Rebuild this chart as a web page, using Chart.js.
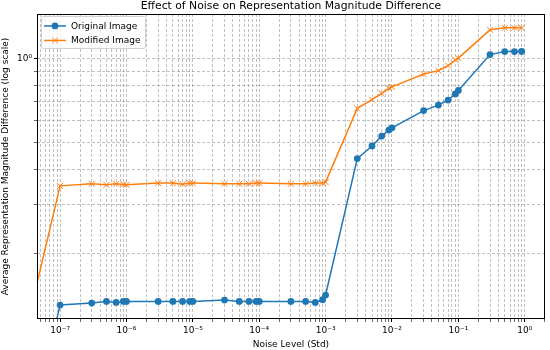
<!DOCTYPE html>
<html>
<head>
<meta charset="utf-8">
<script src="https://cdn.jsdelivr.net/npm/chart.js@4.4.1/dist/chart.umd.min.js"></script>
<style>
  html, body { margin: 0; padding: 0; background: #fff; }
  #wrap { width: 550px; height: 350px; }
</style>
</head>
<body>
<div id="wrap"><canvas id="chart"></canvas></div>
<script>
// noise std levels; the first entry stands in for noise = 0, which the log
// axis pushes far off the plot (only the steep segment into 1e-7 is visible)
const noiseLevels = [
  1e-9,
  1e-7, 3e-7, 5e-7, 7e-7, 9e-7,
  1e-6, 3e-6, 5e-6, 7e-6, 9e-6,
  1e-5, 3e-5, 5e-5, 7e-5, 9e-5,
  1e-4, 3e-4, 5e-4, 7e-4, 9e-4,
  1e-3, 3e-3, 5e-3, 7e-3, 9e-3,
  1e-2, 3e-2, 5e-2, 7e-2, 9e-2,
  0.1, 0.3, 0.5, 0.7, 0.9,
];
const originalDiff = [
  0.0013,
  0.1313, 0.1335, 0.1353, 0.1342, 0.1353,
  0.1353, 0.1353, 0.1353, 0.1353, 0.1353,
  0.1353, 0.1368, 0.1353, 0.1353, 0.1353,
  0.1353, 0.1353, 0.1353, 0.1342, 0.1372,
  0.1426, 0.438, 0.486, 0.527, 0.554,
  0.564, 0.650, 0.680, 0.709, 0.745,
  0.767, 1.030, 1.056, 1.056, 1.057,
];
const modifiedDiff = [
  0.0035,
  0.350, 0.356, 0.353, 0.356, 0.354,
  0.353, 0.358, 0.358, 0.355, 0.358,
  0.358, 0.356, 0.356, 0.356, 0.358,
  0.358, 0.356, 0.356, 0.358, 0.358,
  0.361, 0.662, 0.711, 0.749, 0.781,
  0.790, 0.878, 0.903, 0.941, 0.986,
  1.001, 1.263, 1.284, 1.284, 1.284,
];
const seriesNames = ["Original Image", "Modified Image"];
const xRange = [4.49e-8, 2.005];
const yRange = [0.1171, 1.439];

const FONT = "'DejaVu Sans', sans-serif";
const SUP = { "-": "\u207B", "0": "\u2070", "1": "\u00B9", "2": "\u00B2", "3": "\u00B3",
  "4": "\u2074", "5": "\u2075", "6": "\u2076", "7": "\u2077", "8": "\u2078", "9": "\u2079" };

function powLabel(v){
  const e = String(Math.round(Math.log10(v)));
  return "10" + e.split("").map(c => SUP[c]).join("");
}

// every 1..9 x 10^k inside [min, max]; k = 1 ones are the labelled majors
function logTicks(min, max){
  const out = [];
  for (let e = Math.floor(Math.log10(min)); e <= Math.ceil(Math.log10(max)); e++) {
    for (let m = 1; m <= 9; m++) {
      const v = m * Math.pow(10, e);
      if (v >= min && v <= max) out.push({ value: v, major: m === 1 });
    }
  }
  return out;
}

const toPoints = ys => ys.map((y, i) => ({ x: noiseLevels[i], y }));

function axis(range, size, isX){
  return {
    type: "logarithmic",
    min: range[0],
    max: range[1],
    afterBuildTicks: s => { s.ticks = logTicks(range[0], range[1]); },
    afterFit: s => { if (isX) s.height = size; else s.width = size; },
    ticks: {
      autoSkip: false,
      maxRotation: 0,
      padding: isX ? 3 : 2,
      color: "#000",
      font: { family: FONT, size: 9 },
      callback: (v, i, ticks) => ticks[i].major ? powLabel(v) : "",
    },
    grid: {
      color: "rgba(150,150,150,0.75)",
      lineWidth: 0.8,
      tickColor: "#000",
      tickLength: 3,
      tickWidth: ctx => ctx.tick && ctx.tick.major ? 1 : 0.6,
    },
    border: { display: false, dash: [3, 2] },
    title: {
      display: true,
      text: isX ? "Noise Level (Std)" : "Average Representation Magnitude Difference (log scale)",
      color: "#000",
      font: { family: FONT, size: 9 },
      padding: 0,
    },
  };
}

// matplotlib-style frame on all four sides plus an in-plot legend box
const frameAndLegend = {
  id: "frameAndLegend",
  afterDraw(chart){
    const { ctx, chartArea: a } = chart;
    ctx.save();
    ctx.strokeStyle = "#000";
    ctx.lineWidth = 1;
    ctx.strokeRect(Math.round(a.left) + 0.5, Math.round(a.top) + 0.5,
      Math.round(a.right - a.left) - 1, Math.round(a.bottom - a.top) - 1);

    const bx = a.left + 4, by = a.top + 2, bw = 104, bh = 32;
    ctx.beginPath();
    ctx.roundRect(bx + 0.5, by + 0.5, bw, bh, 2);
    ctx.fillStyle = "rgba(255,255,255,0.8)";
    ctx.fill();
    ctx.strokeStyle = "#d0d0d0";
    ctx.lineWidth = 1;
    ctx.stroke();

    ctx.font = "9px " + FONT;
    ctx.textBaseline = "middle";
    chart.data.datasets.forEach((ds, i) => {
      const cy = by + 10 + i * 14.5;
      const mx = bx + 14;
      ctx.strokeStyle = ds.borderColor;
      ctx.lineWidth = ds.borderWidth;
      ctx.beginPath();
      ctx.moveTo(bx + 3, cy);
      ctx.lineTo(bx + 25, cy);
      ctx.stroke();
      if (ds.pointStyle === "circle") {
        ctx.fillStyle = ds.pointBackgroundColor;
        ctx.beginPath();
        ctx.arc(mx, cy, ds.pointRadius, 0, Math.PI * 2);
        ctx.fill();
      } else {
        const r = ds.pointRadius * Math.SQRT1_2;
        ctx.lineWidth = ds.pointBorderWidth;
        ctx.strokeStyle = ds.pointBorderColor;
        ctx.beginPath();
        ctx.moveTo(mx - r, cy - r); ctx.lineTo(mx + r, cy + r);
        ctx.moveTo(mx - r, cy + r); ctx.lineTo(mx + r, cy - r);
        ctx.stroke();
      }
      ctx.fillStyle = "#000";
      ctx.fillText(ds.label, bx + 30, cy + 0.5);
    });
    ctx.restore();
  },
};

new Chart(document.getElementById("chart"), {
  type: "line",
  data: {
    datasets: [
      {
        label: seriesNames[0],
        data: toPoints(originalDiff),
        borderColor: "#1f77b4",
        backgroundColor: "#1f77b4",
        borderWidth: 1.5,
        pointStyle: "circle",
        pointRadius: 3.4,
        pointBackgroundColor: "#1f77b4",
        pointBorderColor: "#1f77b4",
        pointBorderWidth: 0,
        tension: 0,
      },
      {
        label: seriesNames[1],
        data: toPoints(modifiedDiff),
        borderColor: "#ff7f0e",
        backgroundColor: "#ff7f0e",
        borderWidth: 1.5,
        pointStyle: "crossRot",
        pointRadius: 4.2,
        pointBackgroundColor: "#ff7f0e",
        pointBorderColor: "#ff7f0e",
        pointBorderWidth: 1,
        tension: 0,
      },
    ],
  },
  options: {
    responsive: true,
    maintainAspectRatio: false,
    animation: false,
    events: [],
    layout: { padding: { left: 0, right: 2, top: 0, bottom: 0 } },
    plugins: {
      legend: { display: false },
      tooltip: { enabled: false },
      title: {
        display: true,
        fullSize: false,
        text: "Effect of Noise on Representation Magnitude Difference",
        color: "#000",
        font: { family: FONT, size: 10.8, weight: "normal" },
        padding: { top: 0, bottom: 1 },
      },
    },
    scales: {
      x: axis(xRange, 31, true),
      y: axis(yRange, 37, false),
    },
  },
  plugins: [frameAndLegend],
});
</script>
</body>
</html>
